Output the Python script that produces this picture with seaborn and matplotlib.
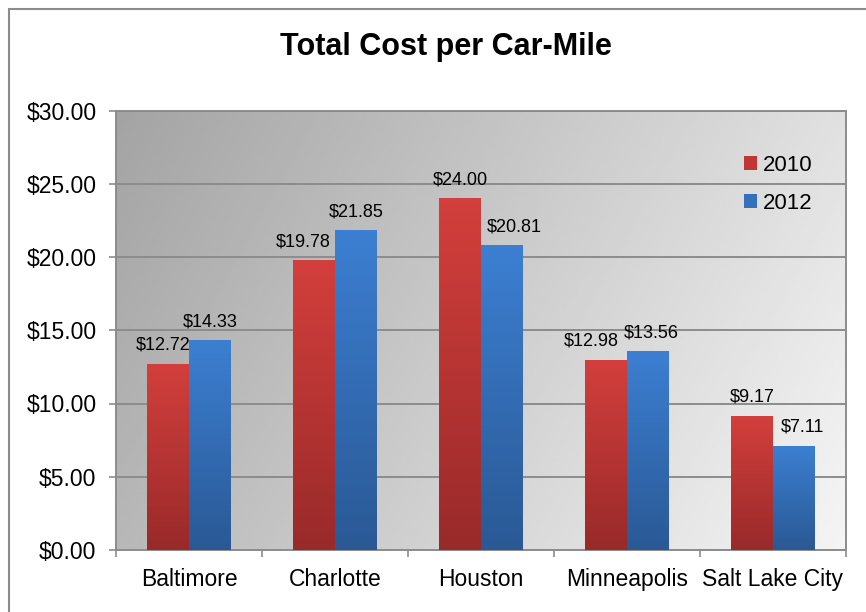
import numpy as np
import pandas as pd
import matplotlib
matplotlib.use("Agg")
import matplotlib.pyplot as plt
import seaborn as sns
from matplotlib.colors import LinearSegmentedColormap
from matplotlib.patches import Patch, Rectangle
from matplotlib.ticker import StrMethodFormatter

# Data
cities = ["Baltimore", "Charlotte", "Houston", "Minneapolis", "Salt Lake City"]
cost_2010 = [12.72, 19.78, 24.00, 12.98, 9.17]
cost_2012 = [14.33, 21.85, 20.81, 13.56, 7.11]
years = ["2010", "2012"]
y_ticks = [0, 5, 10, 15, 20, 25, 30]

# Styling
RED_TOP, RED_BOT = "#d33f3c", "#992a2a"
BLUE_TOP, BLUE_BOT = "#3c7fd2", "#2a5995"
GRID = "#8c8c8c"
# horizontal nudges (px) for the value labels, like Excel's overlap avoidance
nudge_px = [-5, -11, 0, -15, 0, 0, 0, 12, 3, 9]

sns.set_theme(style="white")
plt.rcParams["font.family"] = ["Liberation Sans", "DejaVu Sans"]
plt.rcParams["text.color"] = "black"
plt.rcParams["xtick.labelcolor"] = "black"
plt.rcParams["ytick.labelcolor"] = "black"

df = pd.DataFrame({
    "city": cities * 2,
    "cost": cost_2010 + cost_2012,
    "year": [years[0]] * len(cities) + [years[1]] * len(cities),
})

fig = plt.figure(figsize=(8.66, 6.12), dpi=100)
W, H = 866, 612
ax = fig.add_axes([116 / W, 1 - 550 / H, 730 / W, 439.5 / H])

sns.barplot(data=df, x="city", y="cost", hue="year",
            palette=[RED_TOP, BLUE_TOP], width=2 / 3.5, gap=0,
            saturation=1, ax=ax, legend=False, zorder=3, linewidth=0)

# plot area background: diagonal grey gradient
xx, yy = np.meshgrid(np.linspace(0, 1, 200), np.linspace(1, 0, 200))
t = np.clip(0.75 * xx + 0.25 * (1 - yy), 0, 1)
bg = 0.64 + 0.32 * t
ax.imshow(bg, extent=(0, 1, 0, 1), transform=ax.transAxes, cmap="gray",
          vmin=0, vmax=1, aspect="auto", zorder=0, interpolation="bilinear")

# vertical gradient fill on each bar
red_cm = LinearSegmentedColormap.from_list("r", [RED_BOT, RED_TOP])
blue_cm = LinearSegmentedColormap.from_list("b", [BLUE_BOT, BLUE_TOP])
vgrad = np.linspace(1, 0, 100).reshape(-1, 1)
n = len(cities)
for i, bar in enumerate(ax.patches[:2 * n]):
    cm = red_cm if i < n else blue_cm
    x0, y0 = bar.get_x(), bar.get_y()
    w, h = bar.get_width(), bar.get_height()
    im = ax.imshow(vgrad, extent=(x0, x0 + w, y0, y0 + h), cmap=cm,
                   vmin=0, vmax=1, aspect="auto", zorder=3.5)
    im.set_clip_path(bar)
    ax.annotate(f"${h:.2f}", (x0 + w / 2, y0 + h),
                xytext=(nudge_px[i] * 0.72, 10),
                textcoords="offset points", ha="center", va="baseline",
                fontsize=13, color="black", zorder=5)

ax.set_xlim(-0.5, len(cities) - 0.5)
ax.set_ylim(0, 30)
ax.set_yticks(y_ticks)
ax.yaxis.set_major_formatter(StrMethodFormatter("${x:.2f}"))
ax.set_xlabel("")
ax.set_ylabel("")

ax.grid(axis="y", color=GRID, linewidth=1.4, zorder=1)
ax.set_axisbelow(True)
for side in ["left", "bottom", "right", "top"]:
    ax.spines[side].set_color(GRID)
    ax.spines[side].set_linewidth(1.4)

ax.set_xticks([i - 0.5 for i in range(len(cities) + 1)], minor=True)
ax.tick_params(axis="x", which="major", length=0, pad=13, labelsize=16.5,
               labelcolor="black")
ax.tick_params(axis="x", which="minor", length=5, width=1.2, color=GRID,
               direction="out", bottom=True)
ax.tick_params(axis="y", which="major", length=5, width=1.2, color=GRID,
               direction="out", left=True, pad=9, labelsize=16.5,
               labelcolor="black")

handles = [Patch(facecolor="#c03634", edgecolor="none"),
           Patch(facecolor="#3570bd", edgecolor="none")]
ax.legend(handles, years, loc="center left", bbox_to_anchor=(0.86, 0.832),
          frameon=False, fontsize=16, handlelength=0.6, handleheight=0.6,
          handletextpad=0.25, labelspacing=0.75, borderpad=0, borderaxespad=0)

fig.text(446 / W, 1 - 55 / H, "Total Cost per Car-Mile", ha="center",
         va="baseline", fontsize=22, fontweight="bold", color="black")

# chart frame
fig.patches.append(Rectangle((8.5 / W, -0.1), 2, 1 - 8.5 / H + 0.1,
                             transform=fig.transFigure, fill=False,
                             edgecolor=GRID, linewidth=1.5))

fig.savefig("out.png", dpi=100)
